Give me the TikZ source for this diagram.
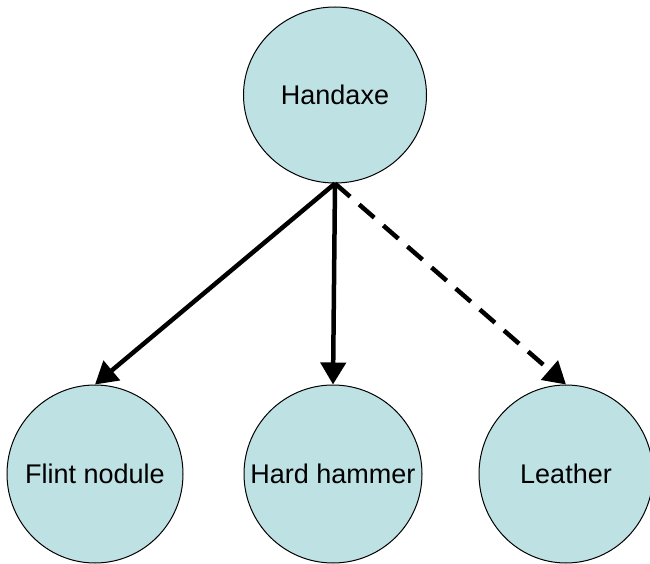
\documentclass[tikz,border=0pt]{standalone}
\usepackage{fontspec}
\setmainfont{Liberation Sans}
\usetikzlibrary{arrows.meta,shapes.geometric}
\definecolor{nodefill}{RGB}{190,225,228}
\begin{document}
\begin{tikzpicture}[x=1pt,y=-1pt,
  item/.style={ellipse,draw=black,line width=1pt,fill=nodefill,inner sep=0pt,
    minimum width=178pt,minimum height=178pt,
    label={[font=\fontsize{27}{30}\selectfont,inner sep=0pt]center:#1}},
  link/.style={line width=4.5pt,-{Triangle[length=22pt,width=25pt]}},
  maybe/.style={link,dash pattern=on 20pt off 12pt}]
\useasboundingbox (0,0) rectangle (650,564);
\node[item=Handaxe,minimum width=183pt,minimum height=176pt] (axe) at (335,95) {};
\node[item=Flint nodule,minimum width=176pt] (flint) at (95,474) {};
\node[item=Hard hammer] (hammer) at (333,474) {};
\node[item=Leather,minimum width=174pt] (leather) at (566,474) {};
\draw[link] (axe.south) -- (flint.north);
\draw[link] (axe.south) -- (hammer.north);
\draw[maybe] (axe.south) -- (leather.north);
\end{tikzpicture}
\end{document}
